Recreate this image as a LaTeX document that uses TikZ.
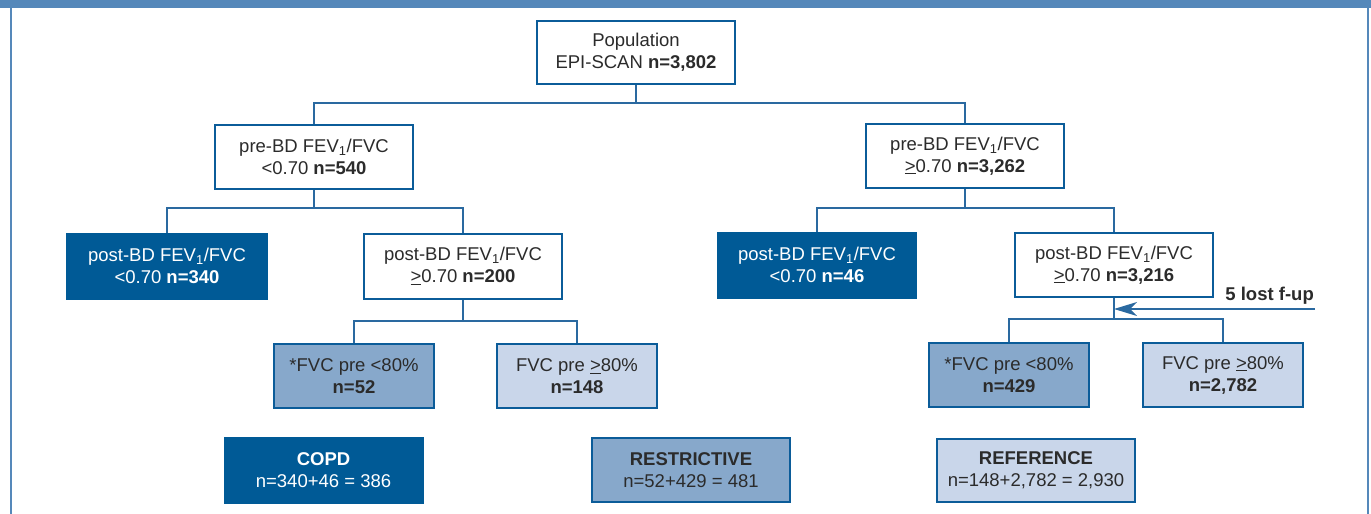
\documentclass[tikz,border=0pt]{standalone}
\usepackage{fontspec}
\setmainfont{Liberation Sans}
\usetikzlibrary{arrows.meta}
\definecolor{framec}{HTML}{5588BA}
\definecolor{darkc}{HTML}{005A96}
\definecolor{midc}{HTML}{87A8CB}
\definecolor{lightc}{HTML}{C9D6EA}
\definecolor{edgec}{HTML}{0B5C99}
\definecolor{linec}{HTML}{2A69A0}
\definecolor{txtc}{HTML}{2B2B2B}
\begin{document}
\begin{tikzpicture}[x=1pt,y=-1pt,
  box/.style={draw=edgec, line width=2pt, text=txtc, align=center, inner sep=0pt,
    font=\fontsize{18.5}{22}\selectfont, minimum width=198pt, minimum height=64pt},
  whitebox/.style={box, fill=white},
  darkbox/.style={box, fill=darkc, draw=darkc, text=white},
  midbox/.style={box, fill=midc},
  lightbox/.style={box, fill=lightc},
  smallbox/.style={minimum width=160pt},
  conn/.style={draw=linec, line width=1.3pt},
  lostlabel/.style={font=\fontsize{18.5}{22}\selectfont\bfseries, text=txtc, inner sep=0pt}
]
\useasboundingbox (0,0) rectangle (1371,514);
% frame
\fill[framec] (0,0) rectangle (1371,8);
\fill[framec] (9.5,8) rectangle (11.5,514);
\fill[framec] (1367,8) rectangle (1369,514);

% nodes
\node[whitebox, minimum height=63pt] (pop) at (636,52.5) {Population\\EPI-SCAN \textbf{n=3,802}};
\node[whitebox] (preL) at (314,157) {pre-BD FEV\textsubscript{1}/FVC\\<0.70 \textbf{n=540}};
\node[whitebox] (preR) at (965,156) {pre-BD FEV\textsubscript{1}/FVC\\\underline{>}0.70 \textbf{n=3,262}};
\node[darkbox, minimum width=200pt, minimum height=65pt] (postLL) at (167,266) {post-BD FEV\textsubscript{1}/FVC\\<0.70 \textbf{n=340}};
\node[whitebox, minimum height=65pt] (postLR) at (463,266) {post-BD FEV\textsubscript{1}/FVC\\\underline{>}0.70 \textbf{n=200}};
\node[darkbox, minimum height=65pt] (postRL) at (817,265) {post-BD FEV\textsubscript{1}/FVC\\<0.70 \textbf{n=46}};
\node[whitebox] (postRR) at (1114,265) {post-BD FEV\textsubscript{1}/FVC\\\underline{>}0.70 \textbf{n=3,216}};
\node[midbox, smallbox] (fvcA) at (354,376) {*FVC pre <80\%\\\textbf{n=52}};
\node[lightbox, smallbox] (fvcB) at (577,376) {FVC pre \underline{>}80\%\\\textbf{n=148}};
\node[midbox, smallbox] (fvcC) at (1009,375) {*FVC pre <80\%\\\textbf{n=429}};
\node[lightbox, smallbox] (fvcD) at (1223,375) {FVC pre \underline{>}80\%\\\textbf{n=2,782}};
\node[darkbox, minimum height=65pt] (copd) at (323.5,470.5) {\textbf{COPD}\\n=340+46 = 386};
\node[midbox] (restr) at (691,470) {\textbf{RESTRICTIVE}\\n=52+429 = 481};
\node[lightbox, minimum height=63pt] (refer) at (1036,470.5) {\textbf{REFERENCE}\\n=148+2,782 = 2,930};

% connectors
\draw[conn] (pop.south) -- (pop.south |- 0,103) -| (preL.north);
\draw[conn] (pop.south |- 0,103) -| (preR.north);
\draw[conn] (preL.south) -- (preL.south |- 0,208) -| (postLL.north);
\draw[conn] (preL.south |- 0,208) -| (postLR.north);
\draw[conn] (preR.south) -- (preR.south |- 0,208) -| (postRL.north);
\draw[conn] (preR.south |- 0,208) -| (postRR.north);
\draw[conn] (postLR.south) -- (postLR.south |- 0,321) -| (fvcA.north);
\draw[conn] (postLR.south |- 0,321) -| (fvcB.north);
\draw[conn] (postRR.south) -- (postRR.south |- 0,319) -| (fvcC.north);
\draw[conn] (postRR.south |- 0,319) -| (fvcD.north);

% lost to follow-up
\coordinate (lost) at (1315,309);
\coordinate (junc) at (postRR.south |- lost);
\draw[conn, -{Stealth[length=23pt, width=14pt, inset=7pt]}] (lost) -- (junc);
\node[lostlabel, anchor=east] (lostlbl) at (1314,296) {5 lost f-up};
\end{tikzpicture}
\end{document}
